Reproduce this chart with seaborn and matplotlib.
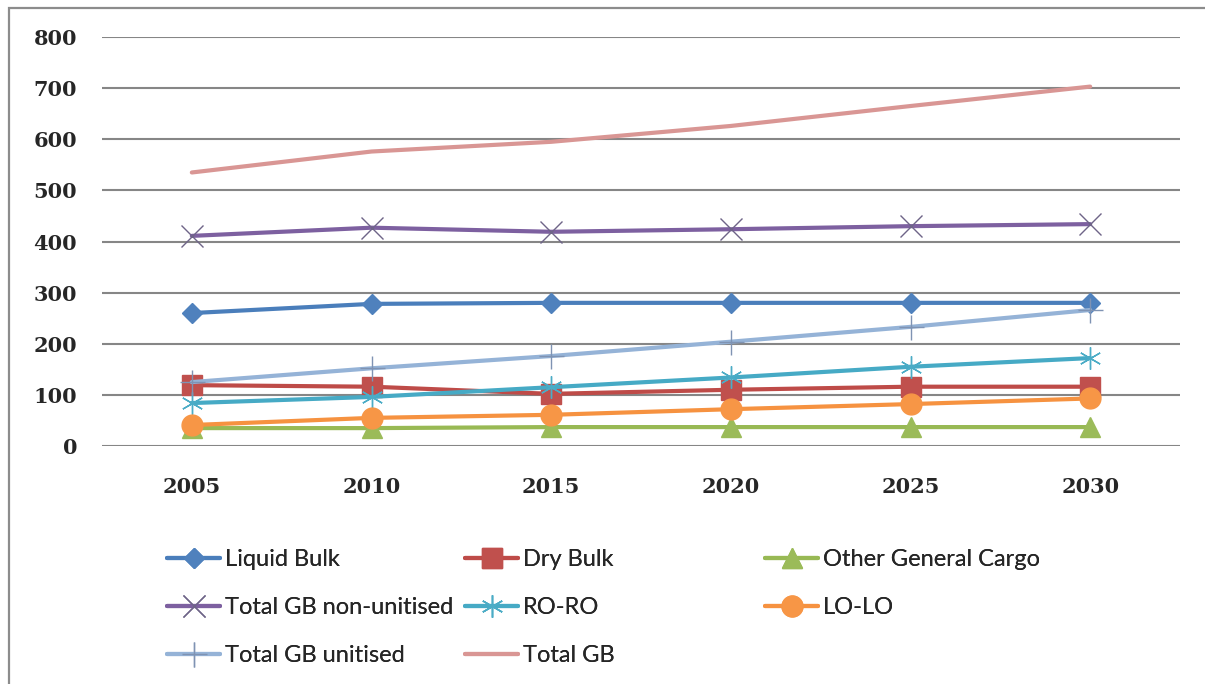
import seaborn as sns
import numpy as np
import pandas as pd
import matplotlib.pyplot as plt
from matplotlib.patches import Rectangle

sns.set_style("white")

years = [2005, 2010, 2015, 2020, 2025, 2030]
liquid_bulk = [260, 278, 280, 280, 280, 280]
dry_bulk = [119, 116, 102, 110, 116, 116]
other_general = [35, 35, 37, 37, 37, 37]
gb_non_unitised = [411, 427, 419, 424, 430, 434]
ro_ro = [84, 96, 115, 134, 155, 172]
lo_lo = [41, 55, 61, 72, 82, 93]
gb_unitised = [125, 152, 176, 204, 233, 266]
total_gb = [535, 576, 595, 626, 665, 703]

series = [
    ("Liquid Bulk", liquid_bulk),
    ("Dry Bulk", dry_bulk),
    ("Other General Cargo", other_general),
    ("Total GB non-unitised", gb_non_unitised),
    ("RO-RO", ro_ro),
    ("LO-LO", lo_lo),
    ("Total GB unitised", gb_unitised),
    ("Total GB", total_gb),
]

# line colour, marker, marker size, marker face, marker edge, edge width
styles = {
    "Liquid Bulk": ("#4A7EBB", "D", 10, "#4F81BD", "#4F81BD", 1),
    "Dry Bulk": ("#BE4B48", "s", 14, "#C0504D", "#C0504D", 1),
    "Other General Cargo": ("#98B954", "^", 14, "#9BBB59", "#9BBB59", 1),
    "Total GB non-unitised": ("#7D60A0", "x", 16, "none", "#6E6488", 1),
    "RO-RO": ("#46AAC5", (6, 2, 0), 16, "none", "#4BACC6", 1),
    "LO-LO": ("#F69240", "o", 15, "#F79646", "#F79646", 1),
    "Total GB unitised": ("#95B3D7", "+", 18, "none", "#7F93B3", 1),
    "Total GB": ("#D99694", "", 0, "none", "#D99694", 1),
}

fig = plt.figure(figsize=(12.05, 6.84), dpi=100)
ax = fig.add_axes([102 / 1205, 1 - 446 / 684, (1180 - 102) / 1205, (446 - 37) / 684])

for name, vals in series:
    df = pd.DataFrame({"year": years, "value": vals})
    c, m, ms, fc, ec, mew = styles[name]
    sns.lineplot(data=df, x="year", y="value", ax=ax, color=c, lw=3,
                 marker=m if m else None, markersize=ms, markerfacecolor=fc,
                 markeredgecolor=ec, markeredgewidth=mew, label=name, legend=False)

ax.set_xlim(2002.5, 2032.5)
ax.set_ylim(0, 800)
ax.set_xticks(years)
ax.set_yticks(np.arange(0, 801, 100))
ax.grid(axis="y", color="#868686", lw=1.5)
ax.grid(axis="x", visible=False)
ax.set_axisbelow(True)
for s in ax.spines.values():
    s.set_visible(False)
ax.set_xlabel("")
ax.set_ylabel("")
tick_font = {"family": "DejaVu Serif", "weight": "bold", "size": 15}
ax.set_xticklabels([str(y) for y in years], **tick_font)
ax.set_yticklabels([str(v) for v in range(0, 801, 100)], **tick_font)
ax.tick_params(axis="x", length=0, pad=22)
ax.tick_params(axis="y", length=0, pad=18)

# legend in three columns with equal spacing
handles, labels = ax.get_legend_handles_labels()
hmap = dict(zip(labels, handles))
columns = [
    ["Liquid Bulk", "Total GB non-unitised", "Total GB unitised"],
    ["Dry Bulk", "RO-RO", "Total GB"],
    ["Other General Cargo", "LO-LO"],
]
col_x = [167, 465, 765]
for cx, col in zip(col_x, columns):
    leg = fig.legend([hmap[l] for l in col], col, loc="upper left",
                     bbox_to_anchor=(cx / 1205, 1 - 549 / 684), frameon=False,
                     prop={"family": ["Lato", "DejaVu Sans"], "size": 17},
                     handlelength=2.25, handletextpad=0.2, labelspacing=1.15,
                     borderpad=0, borderaxespad=0, numpoints=1)
    fig.add_artist(leg)

# outer chart border (left and top edges visible)
fig.add_artist(Rectangle((9 / 1205, -0.05), 1.1, 1 - 8 / 684 + 0.05,
                         transform=fig.transFigure, fill=False,
                         edgecolor="#8C8C8C", lw=1.6))

fig.savefig("out.png", dpi=100)
